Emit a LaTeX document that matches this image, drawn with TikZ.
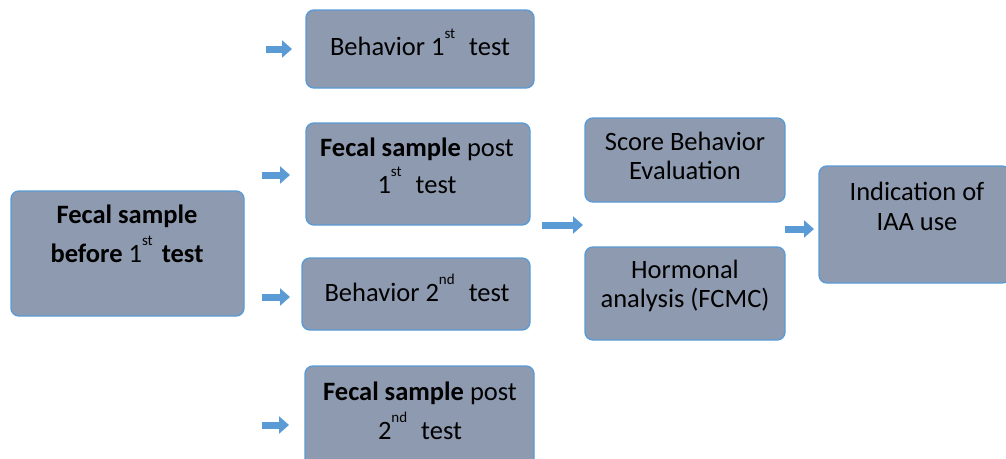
\documentclass[tikz,border=0pt]{standalone}
\usepackage{fontspec}
\setmainfont{Carlito}
\usetikzlibrary{arrows.meta}
\definecolor{boxfill}{RGB}{142,154,175}
\definecolor{boxline}{RGB}{91,155,213}
\tikzset{
  stagebox/.style={draw=boxline, fill=boxfill, line width=1.4pt, rounded corners=8pt, inner sep=0pt},
  stagetext/.style={font=\fontsize{26.5}{29}\selectfont, anchor=base, inner sep=0pt},
  blockarrow/.style={draw=boxline, line width=7pt, -{Triangle[length=10pt,width=17pt]}},
}
% raised ordinal suffix that does not push the lines apart
\newcommand{\supx}[1]{\smash{\raisebox{17pt}{\fontsize{15}{15}\selectfont #1}}}
% centred lines, node baseline on the first line
\newcommand{\lines}[1]{\begin{tabular}[t]{@{}c@{}}#1\end{tabular}}
\begin{document}
\begin{tikzpicture}[x=1pt,y=-1pt]
\useasboundingbox (0,0) rectangle (1006,458);

% stage boxes
\node[stagebox, minimum width=233pt, minimum height=125pt] (a) at (127.5,253.5) {};
\node[stagebox, minimum width=228pt, minimum height=78pt]  (b) at (420,49) {};
\node[stagebox, minimum width=224pt, minimum height=102pt] (c) at (418,174) {};
\node[stagebox, minimum width=228pt, minimum height=72pt]  (d) at (416,294) {};
\node[stagebox, minimum width=229pt, minimum height=104pt] (e) at (419.5,418) {};
\node[stagebox, minimum width=200pt, minimum height=84pt]  (f) at (685,160) {};
\node[stagebox, minimum width=200pt, minimum height=93pt]  (g) at (685,293.5) {};
\node[stagebox, minimum width=191pt, minimum height=117pt] (h) at (914.5,224.5) {};

% box texts, placed by the baseline of their first line
\node[stagetext] (at) at (127,223) {\lines{\textbf{Fecal sample}\\[10pt] \textbf{before} 1\supx{st}\hspace{9pt}\textbf{test}}};
\node[stagetext] (bt) at (420,55) {Behavior 1\supx{st}\hspace{14pt}test};
\node[stagetext] (ct) at (417,156) {\lines{\textbf{Fecal sample} post\\[8pt] 1\supx{st}\hspace{14pt}test}};
\node[stagetext] (dt) at (417,301) {Behavior 2\supx{nd}\hspace{14pt}test};
\node[stagetext] (et) at (420,400) {\lines{\textbf{Fecal sample} post\\[10pt] 2\supx{nd}\hspace{14pt}test}};
\node[stagetext] (ft) at (685,150) {\lines{Score Behavior\\Evaluation}};
\node[stagetext] (gt) at (685,278) {\lines{Hormonal\\analysis (FCMC)}};
\node[stagetext] (ht) at (917,200) {\lines{Indication of\\[1pt]IAA use}};

% free-standing block arrows
\coordinate (a1s) at (266,49);  \coordinate (a1e) at (292,49);
\coordinate (a2s) at (262,175); \coordinate (a2e) at (290,175);
\coordinate (a3s) at (262,297); \coordinate (a3e) at (290,297);
\coordinate (a4s) at (262,425); \coordinate (a4e) at (289,425);
\coordinate (a5s) at (542,225); \coordinate (a5e) at (583,225);
\coordinate (a6s) at (785,229); \coordinate (a6e) at (814,229);
\draw[blockarrow] (a1s) -- (a1e);
\draw[blockarrow] (a2s) -- (a2e);
\draw[blockarrow] (a3s) -- (a3e);
\draw[blockarrow] (a4s) -- (a4e);
\draw[blockarrow] (a5s) -- (a5e);
\draw[blockarrow] (a6s) -- (a6e);
\end{tikzpicture}
\end{document}
